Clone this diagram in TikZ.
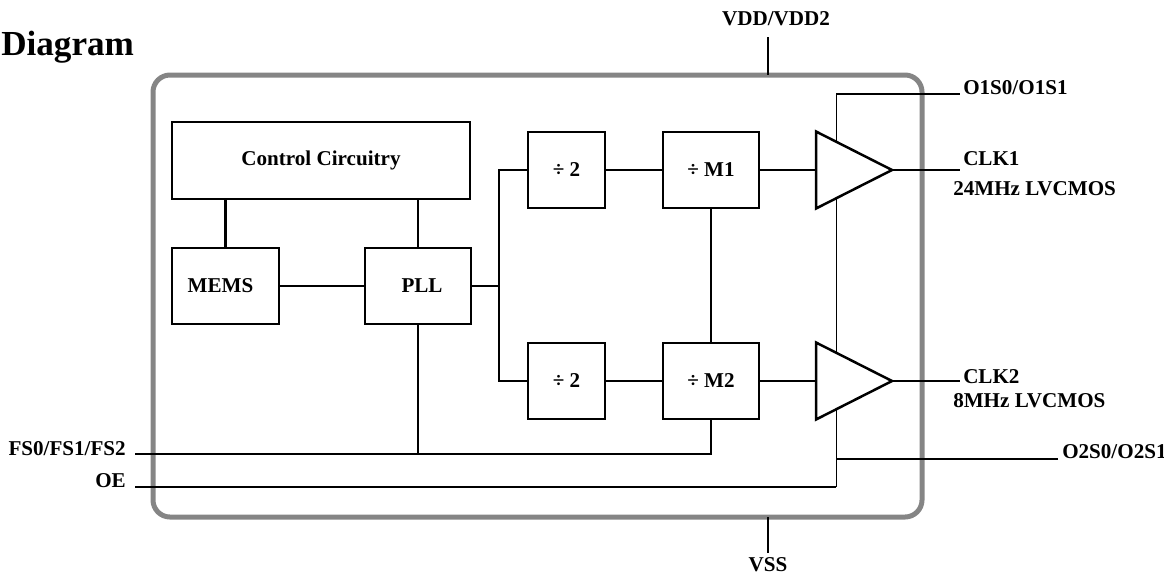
\documentclass[tikz,border=0pt]{standalone}
\usepackage{fontspec}
\setmainfont{Liberation Serif}
\usetikzlibrary{positioning,shapes.geometric,backgrounds,calc}
\newlength\unitpx
\setlength\unitpx{0.2mm}
\tikzset{
  block/.style={rectangle,draw,line width=0.5mm,inner sep=0pt,outer sep=0pt,
    minimum width=#1,minimum height=76\unitpx,font=\bfseries\fontsize{12}{14}\selectfont},
  block/.default=77\unitpx,
  chipbox/.style={rectangle,draw=black!48,line width=1mm,rounded corners=17\unitpx,
    minimum width=769\unitpx,minimum height=442\unitpx,inner sep=0pt,outer sep=0pt},
  buffer/.style={isosceles triangle,isosceles triangle stretches,draw,fill=white,
    line width=0.5mm,minimum width=77\unitpx,minimum height=76\unitpx,
    inner sep=0pt,outer sep=0pt},
  pinlabel/.style={inner sep=0pt,font=\bfseries\fontsize{12}{14}\selectfont},
  titlelabel/.style={inner sep=0pt,font=\bfseries\fontsize{20}{24}\selectfont}
}
\begin{document}
\begin{tikzpicture}[x=0.2mm,y=-0.2mm,line width=0.5mm]
  \useasboundingbox (0,0) rectangle (1164,573);
  \node[titlelabel,anchor=base west] (title) at (0,55) {Diagram};

  % package outline
  \node[chipbox] (chip) at (537.5,296) {};

  % blocks
  \node[block=298\unitpx,minimum height=77\unitpx] (ctrl) at (321,160.5) {Control Circuitry};
  \node[block=107\unitpx] (mems) at (225.5,286) {\hspace*{-10\unitpx}MEMS};
  \node[block=106\unitpx] (pll) at (418,286) {\hspace*{8\unitpx}PLL};
  \node[block] (div2a) at (566.5,170) {÷ 2};
  \node[block=96\unitpx] (divm1) at (711,170) {÷ M1};
  \node[block] (div2b) at (566.5,381) {÷ 2};
  \node[block=96\unitpx] (divm2) at (711,381) {÷ M2};
  \node[buffer,anchor=west] (buf1) at (816,170) {};
  \node[buffer,anchor=west] (buf2) at (816,381) {};

  % pin ends
  \coordinate (vdd) at (768,37);
  \coordinate (vss) at (768,553);
  \coordinate (fs) at (135,454);
  \coordinate (oe) at (135,487);
  \coordinate (split) at (499,286);
  \coordinate (sel) at (836,94);
  \coordinate (o1s) at (960,94);
  \coordinate (o2s) at (1058,459);
  \coordinate (clk1) at (960,170);
  \coordinate (clk2) at (960,381);

  % connections
  \draw (vdd) -- (vdd |- chip.north);
  \draw (vss) -- (vss |- chip.south);
  \draw (mems.north) -- (mems.north |- ctrl.south);
  \draw (pll.north) -- (pll.north |- ctrl.south);
  \draw (mems) -- (pll);
  \draw (pll) -- (split);
  \draw (div2a.west) -| (split) |- (div2b.west);
  \draw (div2a) -- (divm1);
  \draw (div2b) -- (divm2);
  \draw (divm1) -- (divm2);
  \draw (divm1.east) -- (buf1.west);
  \draw (divm2.east) -- (buf2.west);
  \draw (buf1.apex) -- (clk1);
  \draw (buf2.apex) -- (clk2);
  \draw (fs) -- (fs -| divm2.south) -- (divm2.south);
  \draw (pll.south) -- (pll.south |- fs);
  \draw (oe) -- (oe -| sel);
  \draw (sel) -- (o1s);
  \draw (o2s) -- (o2s -| sel);
  \begin{scope}[on background layer]
    \draw (sel) -- (sel |- oe);
  \end{scope}

  % pin names
  \node[pinlabel,anchor=base] (lvdd) at (776,25) {VDD/VDD2};
  \node[pinlabel,anchor=base] (lvss) at (768,571) {VSS};
  \node[pinlabel,anchor=base west] (lo1s) at (962,94) {O1S0/O1S1};
  \node[pinlabel,anchor=base west] (lclk1) at (962,165) {CLK1};
  \node[pinlabel,anchor=base west] (lfreq1) at (952,195) {24MHz LVCMOS};
  \node[pinlabel,anchor=base west] (lclk2) at (962,383) {CLK2};
  \node[pinlabel,anchor=base west] (lfreq2) at (952,407) {8MHz LVCMOS};
  \node[pinlabel,anchor=base west] (lo2s) at (1061,458) {O2S0/O2S1};
  \node[pinlabel,anchor=base east] (lfs) at (127,455) {FS0/FS1/FS2};
  \node[pinlabel,anchor=base east] (loe) at (127,487) {OE};
\end{tikzpicture}
\end{document}
